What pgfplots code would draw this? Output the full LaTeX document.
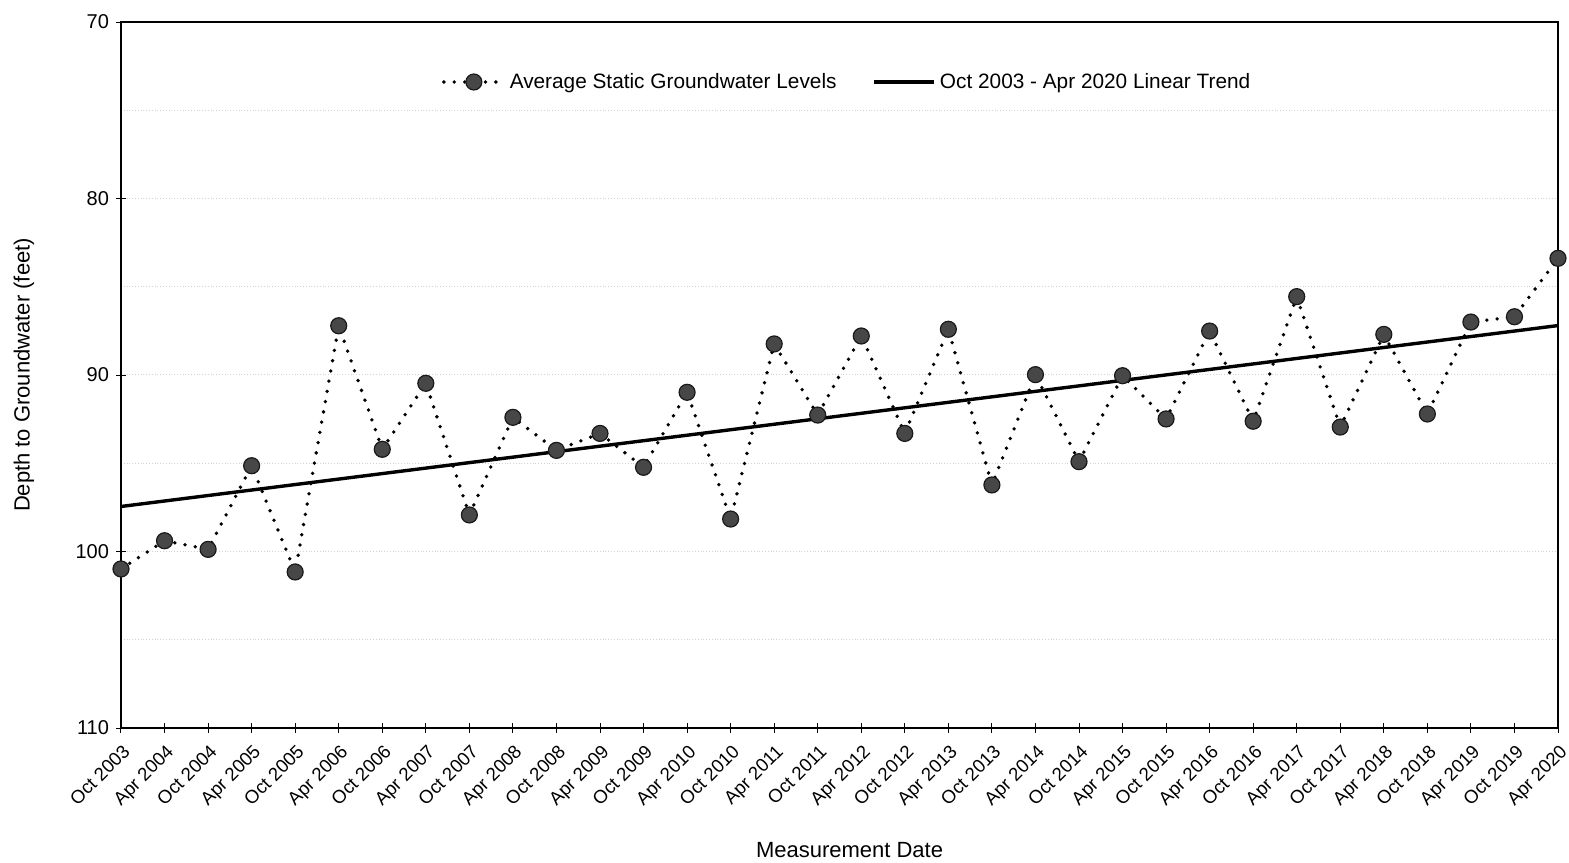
\documentclass[border=0pt]{standalone}
\usepackage{pgfplots}
\pgfplotsset{compat=1.18}
\usepackage{fontspec}
\setmainfont{Liberation Sans}
\begin{document}
\begin{tikzpicture}
\begin{axis}[
  name=ax,
  scale only axis,
  width=718.5pt, height=353pt,
  xmin=0, xmax=33,
  ymin=70, ymax=110,
  y dir=reverse,
  axis line style={line width=1pt},
  xtick={0,...,33},
  xticklabels={Oct 2003,Apr 2004,Oct 2004,Apr 2005,Oct 2005,Apr 2006,Oct 2006,Apr 2007,Oct 2007,Apr 2008,Oct 2008,Apr 2009,Oct 2009,Apr 2010,Oct 2010,Apr 2011,Oct 2011,Apr 2012,Oct 2012,Apr 2013,Oct 2013,Apr 2014,Oct 2014,Apr 2015,Oct 2015,Apr 2016,Oct 2016,Apr 2017,Oct 2017,Apr 2018,Oct 2018,Apr 2019,Oct 2019,Apr 2020},
  x tick label style={rotate=45, anchor=north east, font=\fontsize{9.3}{11}\selectfont, inner sep=0.8pt, xshift=-2.5pt, yshift=-3pt},
  xtick pos=bottom, ytick pos=left,
  xtick style={black, line width=0.5pt},
  ytick={70,80,90,100,110},
  minor ytick={75,85,95,105},
  y tick label style={font=\fontsize{10}{12}\selectfont, /pgf/number format/assume math mode=true},
  ymajorgrids, yminorgrids,
  major grid style={gray!35, densely dotted, line width=0.5pt},
  minor grid style={gray!35, densely dotted, line width=0.5pt},
  tick align=center,
  major tick length=5pt,
  minor tick length=0pt,
  ytick style={black, line width=0.4pt},
  xlabel={Measurement Date},
  ylabel={Depth to Groundwater (feet)},
  xlabel style={at={(axis description cs:0.507,-0.1728)}, anchor=center, font=\fontsize{11}{13}\selectfont},
  ylabel style={at={(axis description cs:-0.0675,0.5)}, anchor=center, rotate=0, font=\fontsize{11}{13}\selectfont},
  legend style={draw=none, fill=none, at={(0.506,0.915)}, anchor=center, legend columns=2,
    font=\fontsize{10.4}{12}\selectfont,
    /tikz/every even column/.append style={column sep=16pt}},
  legend image code/.code={\draw[mark repeat=2,mark phase=2,#1] plot coordinates {(0pt,0pt) (15pt,0pt) (30pt,0pt)};},
  clip=false,
]
\addplot[black, line width=1.9pt, line cap=round, dash pattern=on 0pt off 5.2pt,
  mark=*, mark size=4pt, mark options={solid, fill=black!72, draw=black!90, line width=0.6pt}]
  coordinates {
  (0,100.99) (1,99.39) (2,99.88) (3,95.14) (4,101.16) (5,87.21) (6,94.21) (7,90.47)
  (8,97.93) (9,92.40) (10,94.27) (11,93.31) (12,95.23) (13,90.98) (14,98.16) (15,88.24)
  (16,92.27) (17,87.79) (18,93.31) (19,87.41) (20,96.23) (21,89.98) (22,94.91) (23,90.04)
  (24,92.49) (25,87.51) (26,92.62) (27,85.56) (28,92.95) (29,87.70) (30,92.21) (31,87.00)
  (32,86.70) (33,83.39)
  };
\addlegendentry{Average Static Groundwater Levels}
\addplot[black, line width=1.7pt, no marks] coordinates {(0,97.45) (33,87.2)};
\addlegendentry{Oct 2003 - Apr 2020 Linear Trend}
\end{axis}
\pgfresetboundingbox
\path (ax.south west) +(-60.5pt,-67.5pt) (ax.north east) +(5.5pt,11pt);
\end{tikzpicture}
\end{document}
